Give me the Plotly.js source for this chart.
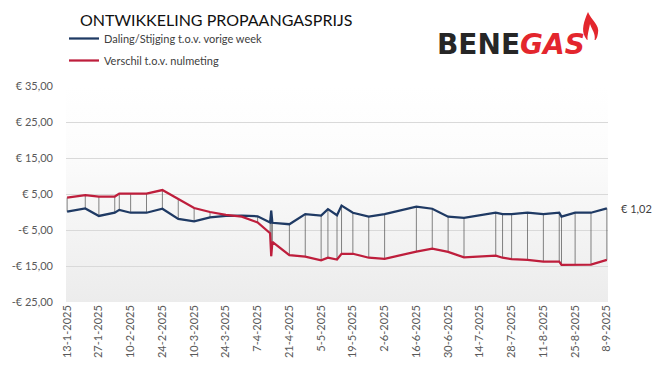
<!DOCTYPE html>
<html>
<head>
<meta charset="utf-8">
<script src="https://cdn.plot.ly/plotly-3.0.1.min.js"></script>
<style>html,body{margin:0;padding:0;background:#fff;}#chart{width:660px;height:379px;}</style>
</head>
<body>
<div id="chart"></div>
<script>
const dates = ['2025-01-13','2025-01-21','2025-01-27','2025-02-03','2025-02-05','2025-02-10','2025-02-17','2025-02-24','2025-03-03','2025-03-10','2025-03-17','2025-03-24','2025-03-31','2025-04-07','2025-04-12 12:00','2025-04-13','2025-04-13 12:00','2025-04-21','2025-04-28','2025-05-05','2025-05-08','2025-05-12','2025-05-14','2025-05-19','2025-05-26','2025-06-02','2025-06-16','2025-06-23','2025-06-30','2025-07-07','2025-07-21','2025-07-24','2025-07-28','2025-08-04','2025-08-11','2025-08-18','2025-08-19','2025-08-25','2025-09-01','2025-09-08'];
const weekChange = [0.1,1.0,-1.1,-0.2,0.6,-0.2,-0.2,0.9,-1.9,-2.6,-1.5,-1.1,-1.0,-1.2,-2.9,0.4,-3.0,-3.4,-0.6,-1.0,0.8,-0.9,1.8,-0.2,-1.3,-0.6,1.5,0.9,-1.3,-1.6,-0.2,-0.6,-0.6,-0.2,-0.6,-0.2,-1.3,-0.2,-0.2,1.02];
const baseDiff = [4.0,4.7,4.3,4.3,5.1,5.1,5.1,6.1,3.6,1.1,0.0,-0.8,-1.3,-2.9,-5.9,-12.3,-8.3,-12.0,-12.4,-13.4,-12.7,-13.2,-11.6,-11.6,-12.7,-13.0,-11.0,-10.2,-11.1,-12.6,-12.1,-12.7,-13.1,-13.3,-13.8,-13.8,-14.7,-14.7,-14.6,-13.3];
const seriesNames = ['Daling/Stijging t.o.v. vorige week','Verschil t.o.v. nulmeting'];
const tickDates = ['2025-01-13','2025-01-27','2025-02-10','2025-02-24','2025-03-10','2025-03-24','2025-04-07','2025-04-21','2025-05-05','2025-05-19','2025-06-02','2025-06-16','2025-06-30','2025-07-14','2025-07-28','2025-08-11','2025-08-25','2025-09-08'];
const tickLabels = ['13-1-2025','27-1-2025','10-2-2025','24-2-2025','10-3-2025','24-3-2025','7-4-2025','21-4-2025','5-5-2025','19-5-2025','2-6-2025','16-6-2025','30-6-2025','14-7-2025','28-7-2025','11-8-2025','25-8-2025','8-9-2025'];
const yTickVals = [35,25,15,5,-5,-15,-25];
const yTickText = ['€ 35,00','€ 25,00','€ 15,00','€ 5,00','-€ 5,00','-€ 15,00','-€ 25,00'];
const lastLabel = '€ 1,02';

// high-low connector lines built from the two series
const hlX = [], hlY = [];
for (let i = 0; i < dates.length; i++) {
  hlX.push(dates[i], dates[i], null);
  hlY.push(weekChange[i], baseDiff[i], null);
}

const W = 660, H = 379;
const M = {l: 66, r: 52, t: 86, b: 77, autoexpand: false};
const pw = W - M.l - M.r, ph = H - M.t - M.b;
function px(x) { return (x - M.l) / pw; }
function py(y) { return (H - M.b - y) / ph; }
function P(x, y) { return px(x) + ' ' + py(y); }

const grad = 'data:image/svg+xml;utf8,' + encodeURIComponent('<svg xmlns="http://www.w3.org/2000/svg" width="10" height="100" preserveAspectRatio="none"><defs><linearGradient id="g" x1="0" y1="0" x2="0" y2="1"><stop offset="0" stop-color="#ffffff"/><stop offset="0.3" stop-color="#fcfcfc"/><stop offset="1" stop-color="#ececec"/></linearGradient></defs><rect width="10" height="100" fill="url(#g)"/></svg>');

const flameOuter = 'M ' + P(585, 37) +
  ' C ' + P(581, 30) + ', ' + P(584, 21) + ', ' + P(588, 12) +
  ' C ' + P(591, 20) + ', ' + P(600, 25) + ', ' + P(598, 33) +
  ' C ' + P(597.5, 36) + ', ' + P(597, 38) + ', ' + P(595.5, 40) +
  ' L ' + P(587, 40) + ' Z';
const flameInner = 'M ' + P(587.5, 40.5) +
  ' C ' + P(587, 35) + ', ' + P(589, 30) + ', ' + P(590, 24) +
  ' C ' + P(592, 30) + ', ' + P(596, 34) + ', ' + P(594.5, 40.5) + ' Z';

const traces = [
  {x: hlX, y: hlY, type: 'scatter', mode: 'lines', line: {color: '#595959', width: 0.75}, showlegend: false, hoverinfo: 'skip'},
  {x: dates, y: weekChange, type: 'scatter', mode: 'lines', name: seriesNames[0], line: {color: '#1f3a64', width: 2.25}, legendgroup: 'a'},
  {x: dates, y: baseDiff, type: 'scatter', mode: 'lines', name: seriesNames[1], line: {color: '#be1e3c', width: 2.25}, legendgroup: 'b'}
];

const layout = {
  width: W, height: H,
  margin: M,
  paper_bgcolor: '#ffffff',
  plot_bgcolor: 'rgba(0,0,0,0)',
  font: {family: 'Lato, sans-serif', color: '#595959', size: 11},
  title: {text: 'ONTWIKKELING PROPAANGASPRIJS', xref: 'container', yref: 'container', x: 80/W, xanchor: 'left', y: 1 - 20/H, yanchor: 'middle', font: {family: 'Lato, sans-serif', size: 16, color: '#111111'}},
  showlegend: true,
  legend: {xref: 'container', yref: 'container', x: 64/W, xanchor: 'left', y: 1 - 24/H, yanchor: 'top', orientation: 'v', traceorder: 'grouped', tracegroupgap: 3, font: {size: 11, color: '#404040'}, bgcolor: 'rgba(0,0,0,0)', itemwidth: 30},
  xaxis: {
    type: 'date', range: ['2025-01-12 12:00', '2025-09-08 12:00'], automargin: false,
    tickmode: 'array', tickvals: tickDates, ticktext: tickLabels, tickangle: -90,
    showgrid: false, zeroline: false, showline: false, ticks: '',
    tickfont: {size: 11, color: '#595959'}
  },
  yaxis: {
    range: [-25, 35], tickmode: 'array', tickvals: yTickVals, ticktext: yTickText, automargin: false,
    showgrid: true, gridcolor: '#d9d9d9', gridwidth: 1, zeroline: false, showline: false, ticks: '',
    ticklabelstandoff: 12,
    tickfont: {size: 11, color: '#595959'}
  },
  images: [{source: grad, xref: 'paper', yref: 'paper', x: 0, y: 1, sizex: 1, sizey: 1, sizing: 'stretch', layer: 'below', xanchor: 'left', yanchor: 'top'}],
  shapes: [
    {type: 'path', xref: 'paper', yref: 'paper', path: flameOuter, fillcolor: '#e3262d', line: {width: 0}},
    {type: 'path', xref: 'paper', yref: 'paper', path: flameInner, fillcolor: '#ffffff', line: {width: 0}}
  ],
  annotations: [
    {x: dates[dates.length-1], y: weekChange[weekChange.length-1], xref: 'x', yref: 'y', text: lastLabel, showarrow: false, xanchor: 'left', yanchor: 'middle', xshift: 12, font: {size: 11, color: '#404040'}},
    {xref: 'paper', yref: 'paper', x: px(435), y: py(44), xanchor: 'left', yanchor: 'middle', showarrow: false,
     text: '<b>BENE</b><span style="color:#e3262d"><b><i>GAS</i></b></span>', font: {family: 'DejaVu Sans, sans-serif', size: 28, color: '#262626', weight: 'bold'}}
  ]
};

Plotly.newPlot('chart', traces, layout, {displayModeBar: false, staticPlot: true});
</script>
</body>
</html>
